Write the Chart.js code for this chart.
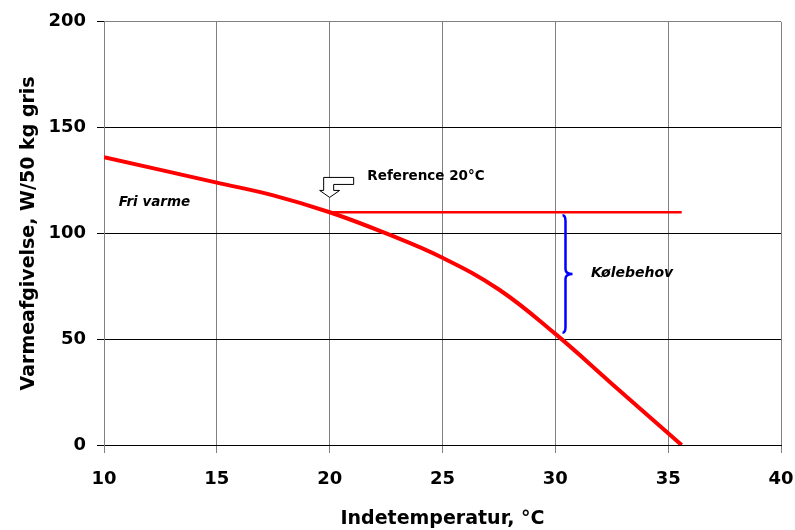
<!DOCTYPE html>
<html>
<head>
<meta charset="utf-8">
<script src="https://cdn.jsdelivr.net/npm/chart.js@4/dist/chart.umd.min.js"></script>
<style>
  html, body { margin: 0; padding: 0; background: #fff; }
</style>
</head>
<body>
<canvas id="heatChart" width="795" height="530"></canvas>
<script>
// values
const temps = [10, 15, 17.5, 20, 22.5, 25, 27.5, 30, 32.5, 35, 35.6];
const heat = [136, 124, 118, 110, 100, 88.5, 73.5, 52.5, 29, 5.5, 0];
const refTemps = [20, 35.6];
const refHeat = [110, 110];
const xTicks = [10, 15, 20, 25, 30, 35, 40];
const yTicks = [0, 50, 100, 150, 200];

const FONT = "'DejaVu Sans', sans-serif";

function toPoints(xs, ys) {
  return xs.map((x, i) => ({ x: x, y: ys[i] }));
}

// arrow, brace and the free texts
const notesPlugin = {
  id: 'notes',
  afterDatasetsDraw(chart) {
    const ctx = chart.ctx;
    const xs = chart.scales.x;
    const ys = chart.scales.y;
    ctx.save();

    // hollow arrow pointing at the 20 °C reference
    const ax = xs.getPixelForValue(20);
    const ay = ys.getPixelForValue(117);
    ctx.beginPath();
    ctx.moveTo(ax, ay);
    ctx.lineTo(ax + 10, ay - 7);
    ctx.lineTo(ax + 4, ay - 7);
    ctx.lineTo(ax + 4, ay - 13);
    ctx.lineTo(ax + 24, ay - 13);
    ctx.lineTo(ax + 24, ay - 20);
    ctx.lineTo(ax - 6, ay - 20);
    ctx.lineTo(ax - 6, ay - 7);
    ctx.lineTo(ax - 10, ay - 7);
    ctx.closePath();
    ctx.fillStyle = '#fff';
    ctx.fill();
    ctx.strokeStyle = '#000';
    ctx.lineWidth = 1;
    ctx.stroke();

    // blue brace between the two lines
    const bx = xs.getPixelForValue(30.45);
    const top = ys.getPixelForValue(108.6);
    const bot = ys.getPixelForValue(53);
    const mid = (top + bot) / 2;
    ctx.beginPath();
    ctx.moveTo(bx - 3, top);
    ctx.quadraticCurveTo(bx, top, bx, top + 6);
    ctx.lineTo(bx, mid - 5);
    ctx.quadraticCurveTo(bx, mid, bx + 7, mid);
    ctx.quadraticCurveTo(bx, mid, bx, mid + 5);
    ctx.lineTo(bx, bot - 6);
    ctx.quadraticCurveTo(bx, bot, bx - 3, bot);
    ctx.strokeStyle = '#0000ff';
    ctx.lineWidth = 2.5;
    ctx.stroke();

    ctx.fillStyle = '#000';
    ctx.textBaseline = 'middle';
    ctx.textAlign = 'left';
    ctx.font = "bold 13.5px " + FONT;
    ctx.fillText('Reference 20°C', xs.getPixelForValue(21.67), ys.getPixelForValue(126.7));
    ctx.font = "italic bold 13.5px " + FONT;
    ctx.fillText('Fri varme', xs.getPixelForValue(10.65), ys.getPixelForValue(114.6));
    ctx.font = "italic bold 14px " + FONT;
    ctx.fillText('Kølebehov', xs.getPixelForValue(31.58), ys.getPixelForValue(81.1));
    ctx.restore();
  }
};

const ctx = document.getElementById('heatChart').getContext('2d');
const heatChart = new Chart(ctx, {
  type: 'line',
  data: {
    datasets: [
      {
        label: 'Varmeafgivelse',
        data: toPoints(temps, heat),
        borderColor: '#ff0000',
        borderWidth: 4,
        pointRadius: 0,
        tension: 0.4,
        fill: false
      },
      {
        label: 'Reference',
        data: toPoints(refTemps, refHeat),
        borderColor: '#ff0000',
        borderWidth: 2.5,
        pointRadius: 0,
        fill: false
      }
    ]
  },
  options: {
    responsive: false,
    animation: false,
    layout: { padding: { left: 0, top: 21, right: 14, bottom: 0 } },
    plugins: {
      legend: { display: false },
      tooltip: { enabled: false }
    },
    scales: {
      x: {
        type: 'linear',
        min: 10,
        max: 40,
        afterBuildTicks: axis => { axis.ticks = xTicks.map(v => ({ value: v })); },
        afterFit: axis => {
          axis.height = 85;
          axis.paddingLeft = 0;
          axis.paddingRight = 0;
        },
        ticks: {
          color: '#000',
          padding: 16,
          font: { family: FONT, size: 18, weight: 'bold' }
        },
        grid: { color: '#808080', tickColor: '#808080', tickLength: 8, lineWidth: 1 },
        border: { color: '#000', width: 1 },
        title: {
          display: true,
          text: 'Indetemperatur, °C',
          color: '#000',
          padding: { top: 0, bottom: 0 },
          font: { family: FONT, size: 19, weight: 'bold' }
        }
      },
      y: {
        type: 'linear',
        min: 0,
        max: 200,
        afterBuildTicks: axis => { axis.ticks = yTicks.map(v => ({ value: v })); },
        afterFit: axis => { axis.width = 104; },
        ticks: {
          color: '#000',
          padding: 11,
          font: { family: FONT, size: 18, weight: 'bold' }
        },
        grid: {
          color: c => (c.tick && c.tick.value === 200) ? '#808080' : '#000',
          tickColor: '#000',
          tickLength: 7,
          lineWidth: 1
        },
        border: { color: '#808080', width: 1 },
        title: {
          display: true,
          text: 'Varmeafgivelse, W/50 kg gris',
          color: '#000',
          padding: { top: 18, bottom: 0 },
          font: { family: FONT, size: 19, weight: 'bold' }
        }
      }
    }
  },
  plugins: [notesPlugin]
});
</script>
</body>
</html>
